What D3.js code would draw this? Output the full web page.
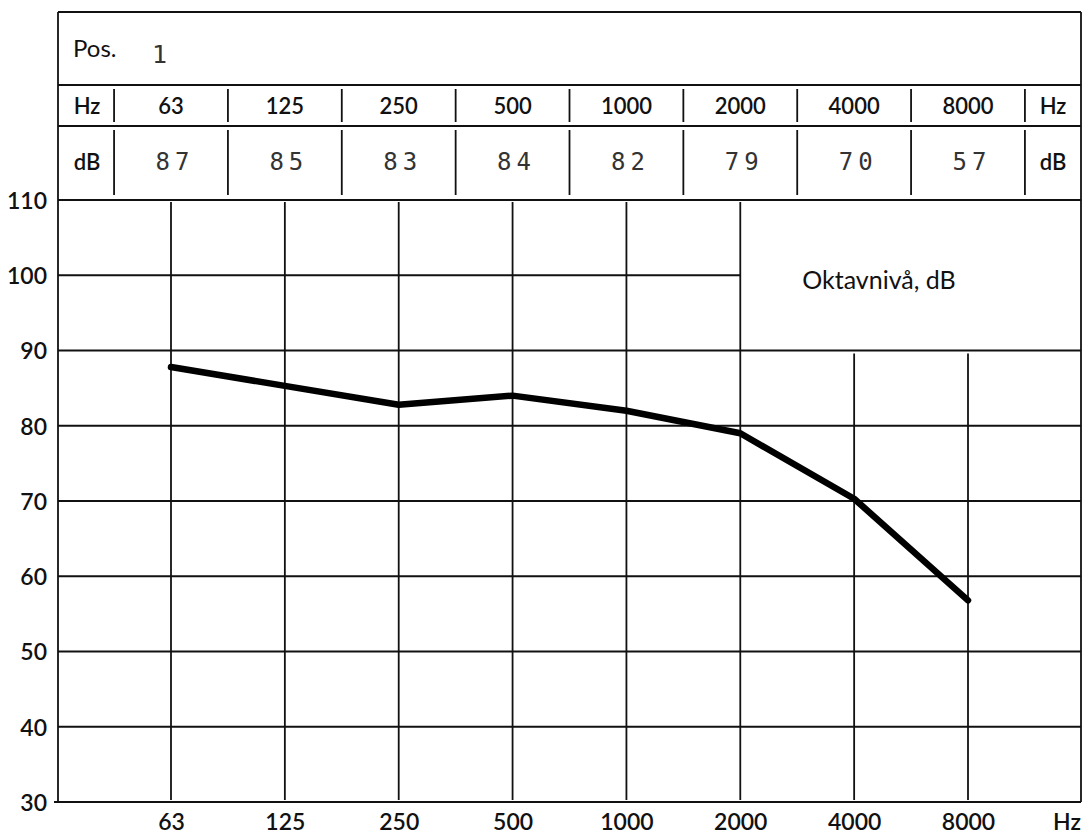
<!DOCTYPE html>
<html lang="sv">
<head>
  <meta charset="UTF-8">
  <title>Oktavnivå, dB</title>
  <style>
    body {
      margin: 0;
      padding: 0;
      background: #fff;
    }

    svg {
      display: block;
      background: #fff;
    }

    .grid line,
    .frame line {
      stroke: #111;
      stroke-width: 1.8px;
    }

    .label {
      font-family: Lato, "Open Sans", sans-serif;
      font-weight: 600;
      fill: #111;
    }

    .mono {
      font-family: "DejaVu Sans Mono", monospace;
      fill: #333;
    }

    .curve {
      fill: none;
      stroke: #000;
      stroke-width: 6.5px;
      stroke-linejoin: round;
      stroke-linecap: round;
    }
  </style>
</head>
<body>
  <svg></svg>

  <script src="https://d3js.org/d3.v7.min.js"></script>
  <script>
    const width = 1085, height = 834;

    // octave band centre frequencies
    const freqs = ["63", "125", "250", "500", "1000", "2000", "4000", "8000"];
    // levels typed in the table
    const tableDb = ["87", "85", "83", "84", "82", "79", "70", "57"];
    // levels as drawn on the curve
    const curveDb = [87.8, 85.3, 82.8, 84.0, 82.0, 79.0, 70.3, 56.8];
    const yTicks = [30, 40, 50, 60, 70, 80, 90, 100, 110];
    const position = "1";

    const frameLeft = 58, frameRight = 1081, frameTop = 12;
    const rowPos = 85, rowHz = 126;

    const svg = d3.select("svg")
      .attr("width", width)
      .attr("height", height);

    const x = d3.scalePoint().domain(freqs).range([171, 968]);
    const step = x.step();
    const y = d3.scaleLinear().domain([30, 110]).range([802, 200]);

    const grid = svg.append("g").attr("class", "grid");

    // horizontal grid: the 100 line stops at the legend box
    grid.selectAll("line.h")
      .data(yTicks)
      .join("line")
      .attr("class", "h")
      .attr("x1", frameLeft)
      .attr("x2", d => d === 100 ? x("2000") : frameRight)
      .attr("y1", d => y(d))
      .attr("y2", d => y(d));

    // vertical grid: 4000 and 8000 start under the legend box
    grid.selectAll("line.v")
      .data(freqs)
      .join("line")
      .attr("class", "v")
      .attr("x1", d => x(d))
      .attr("x2", d => x(d))
      .attr("y1", d => (d === "4000" || d === "8000") ? y(90) + 3 : y(110) + 2)
      .attr("y2", y(30) - 2);

    // frame + table rules
    const frame = svg.append("g").attr("class", "frame");
    frame.append("line").attr("x1", frameLeft).attr("x2", frameRight).attr("y1", frameTop).attr("y2", frameTop);
    frame.append("line").attr("x1", frameLeft).attr("x2", frameLeft).attr("y1", frameTop).attr("y2", y(30));
    frame.append("line").attr("x1", frameRight).attr("x2", frameRight).attr("y1", frameTop).attr("y2", y(30));
    frame.append("line").attr("x1", frameLeft - 4).attr("x2", frameRight).attr("y1", y(30)).attr("y2", y(30));
    frame.selectAll("line.row")
      .data([rowPos, rowHz])
      .join("line")
      .attr("class", "row")
      .attr("x1", frameLeft)
      .attr("x2", frameRight)
      .attr("y1", d => d)
      .attr("y2", d => d);

    const seps = [x(freqs[0]) - step / 2].concat(freqs.map(f => x(f) + step / 2));
    frame.selectAll("line.sepHz")
      .data(seps)
      .join("line")
      .attr("class", "sepHz")
      .attr("x1", d => d).attr("x2", d => d)
      .attr("y1", rowPos + 4).attr("y2", rowHz - 4);
    frame.selectAll("line.sepDb")
      .data(seps)
      .join("line")
      .attr("class", "sepDb")
      .attr("x1", d => d).attr("x2", d => d)
      .attr("y1", rowHz + 4).attr("y2", y(110) - 5);

    // table text
    svg.append("text").attr("class", "label")
      .attr("x", 73).attr("y", 57)
      .style("font-size", "24px")
      .style("font-weight", 400)
      .text("Pos.");
    svg.append("text").attr("class", "mono")
      .attr("x", 152).attr("y", 63)
      .style("font-size", "25px")
      .text(position);

    svg.append("text").attr("class", "label")
      .attr("x", 87).attr("y", 114)
      .attr("text-anchor", "middle")
      .style("font-size", "22px")
      .text("Hz");
    svg.append("text").attr("class", "label")
      .attr("x", 1053).attr("y", 114)
      .attr("text-anchor", "middle")
      .style("font-size", "22px")
      .text("Hz");
    svg.append("text").attr("class", "label")
      .attr("x", 87).attr("y", 170)
      .attr("text-anchor", "middle")
      .style("font-size", "22px")
      .text("dB");
    svg.append("text").attr("class", "label")
      .attr("x", 1053).attr("y", 170)
      .attr("text-anchor", "middle")
      .style("font-size", "22px")
      .text("dB");

    svg.append("g")
      .selectAll("text")
      .data(freqs)
      .join("text")
      .attr("class", "label")
      .attr("x", d => x(d))
      .attr("y", 114)
      .attr("text-anchor", "middle")
      .style("font-size", "22px")
      .text(d => d);

    svg.append("g")
      .selectAll("text")
      .data(tableDb)
      .join("text")
      .attr("class", "mono")
      .attr("x", (d, i) => x(freqs[i]) + 4)
      .attr("y", 170)
      .attr("text-anchor", "middle")
      .style("font-size", "24px")
      .style("letter-spacing", "5px")
      .text(d => d);

    // axes (labels only)
    const yAxis = svg.append("g")
      .attr("transform", `translate(${frameLeft},0)`)
      .call(d3.axisLeft(y).tickValues(yTicks).tickSize(0).tickPadding(11));
    yAxis.select(".domain").remove();
    yAxis.selectAll("text")
      .attr("class", "label")
      .attr("dy", "0.36em")
      .style("font-size", "23px");

    const xAxis = svg.append("g")
      .attr("transform", `translate(0,${y(30)})`)
      .call(d3.axisBottom(x).tickSize(0));
    xAxis.select(".domain").remove();
    xAxis.selectAll("text")
      .attr("class", "label")
      .attr("y", 28)
      .attr("dy", null)
      .style("font-size", "23px");

    svg.append("text").attr("class", "label")
      .attr("x", 1067).attr("y", y(30) + 28)
      .attr("text-anchor", "middle")
      .style("font-size", "23px")
      .text("Hz");

    // legend box text
    svg.append("text").attr("class", "label")
      .attr("x", 879).attr("y", 289)
      .attr("text-anchor", "middle")
      .style("font-size", "25px")
      .style("font-weight", 400)
      .text("Oktavnivå, dB");

    // level curve
    const line = d3.line()
      .x((d, i) => x(freqs[i]))
      .y(d => y(d));

    svg.append("path")
      .datum(curveDb)
      .attr("class", "curve")
      .attr("d", line);
  </script>
</body>
</html>
